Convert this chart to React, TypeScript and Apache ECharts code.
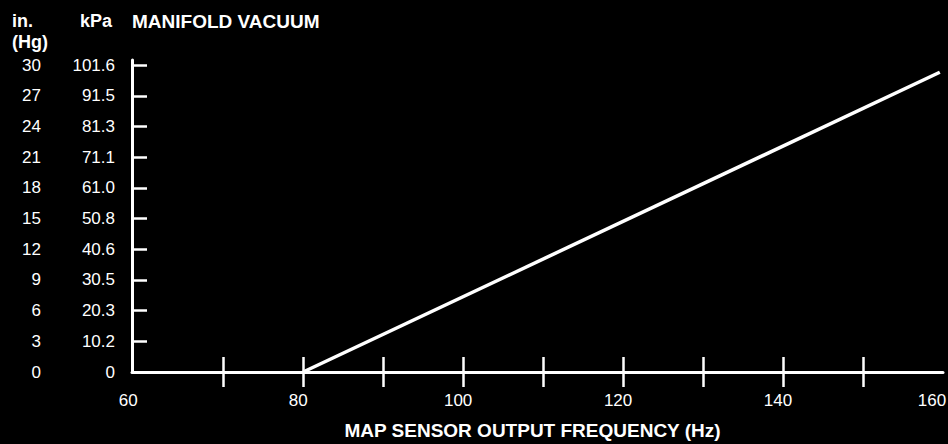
import React, { useEffect, useRef } from "react";
import * as echarts from "echarts";

// ---- data ----
const hgTicks = [0, 3, 6, 9, 12, 15, 18, 21, 24, 27, 30];
const kpaLabels = ["0", "10.2", "20.3", "30.5", "40.6", "50.8", "61.0", "71.1", "81.3", "91.5", "101.6"];
const freqLabels = [60, 80, 100, 120, 140, 160];
const freqTicks = [70, 80, 90, 100, 110, 120, 130, 140, 150];
const lineFreq = [80, 159.6];
const lineVacuumHg = [0, 29.3];

const FONT = "'Liberation Sans', Arial, Helvetica, sans-serif";

export default function App() {
  const ref = useRef<HTMLDivElement>(null);
  useEffect(() => {
    if (!ref.current) return;
    const chart = echarts.init(ref.current, null, { renderer: "svg" });
    const white = "#ffffff";
    const xCommon = {
      type: "value",
      min: 58.6,
      max: 160,
      position: "bottom",
      splitLine: { show: false },
    };
    chart.setOption({
      animation: false,
      backgroundColor: "#000000",
      textStyle: { fontFamily: FONT, color: white },
      grid: {
        left: 132,
        top: 60,
        width: 811,
        height: 312,
        containLabel: false,
        outerBoundsMode: "none",
      },
      graphic: [
        { type: "text", left: 12, top: 12, style: { text: "in.", fill: white, font: `bold 18px ${FONT}` } },
        { type: "text", left: 12, top: 33, style: { text: "(Hg)", fill: white, font: `bold 18px ${FONT}` } },
        { type: "text", left: 80, top: 12, style: { text: "kPa", fill: white, font: `bold 18px ${FONT}` } },
        { type: "text", left: 132, top: 12, style: { text: "MANIFOLD VACUUM", fill: white, font: `bold 19px ${FONT}` } },
      ],
      xAxis: [
        {
          ...xCommon,
          axisLine: { show: true, lineStyle: { color: white, width: 3 } },
          axisTick: {
            show: true,
            inside: true,
            length: 15,
            customValues: freqTicks,
            lineStyle: { color: white, width: 2.5 },
          },
          axisLabel: {
            show: true,
            customValues: freqLabels,
            margin: 20,
            color: white,
            fontSize: 17,
            fontFamily: FONT,
            formatter: (v: number) =>
              v === freqLabels[0]
                ? `{m|${v}}`
                : v === freqLabels[freqLabels.length - 1]
                ? `{e|${v}}`
                : `{n|${v}}`,
            rich: {
              n: { color: white, fontSize: 17, fontFamily: FONT, padding: [0, 10, 0, 0] },
              m: { color: white, fontSize: 17, fontFamily: FONT, padding: [0, 30, 0, 0] },
              e: { color: white, fontSize: 17, fontFamily: FONT, padding: [0, 22, 0, 0] },
            },
          },
          name: "MAP SENSOR OUTPUT FREQUENCY (Hz)",
          nameLocation: "middle",
          nameGap: 49,
          nameTextStyle: { color: white, fontSize: 19, fontWeight: "bold", fontFamily: FONT, padding: [0, 10, 0, 0] },
        },
        {
          ...xCommon,
          offset: 0,
          axisLine: { show: false },
          axisTick: {
            show: true,
            inside: false,
            length: 15,
            customValues: freqTicks,
            lineStyle: { color: white, width: 2.5 },
          },
          axisLabel: { show: false },
        },
      ],
      yAxis: [
        {
          type: "value",
          min: 0,
          max: 30.5,
          position: "left",
          splitLine: { show: false },
          axisLine: { show: true, lineStyle: { color: white, width: 3 } },
          axisTick: {
            show: true,
            inside: true,
            length: 15,
            customValues: hgTicks.slice(1),
            lineStyle: { color: white, width: 2.5 },
          },
          axisLabel: {
            show: true,
            customValues: hgTicks,
            margin: 17,
            color: white,
            fontSize: 17,
            fontFamily: FONT,
            padding: [0, 0, 10, 0],
            formatter: (v: number) => {
              const i = hgTicks.indexOf(Math.round(v));
              return i >= 0 ? kpaLabels[i] : "";
            },
          },
        },
        {
          type: "value",
          min: 0,
          max: 30.5,
          position: "left",
          offset: 0,
          splitLine: { show: false },
          axisLine: { show: false },
          axisTick: { show: false },
          axisLabel: {
            show: true,
            customValues: hgTicks,
            margin: 91,
            color: white,
            fontSize: 17,
            fontFamily: FONT,
            padding: [0, 0, 10, 0],
            formatter: (v: number) => String(v),
          },
        },
      ],
      series: [
        {
          type: "line",
          xAxisIndex: 0,
          yAxisIndex: 0,
          data: lineFreq.map((f, i) => [f, lineVacuumHg[i]]),
          showSymbol: false,
          symbol: "none",
          clip: false,
          lineStyle: { color: white, width: 3.5 },
        },
      ],
    });
    return () => chart.dispose();
  }, []);
  return (
    <div
      ref={ref}
      style={{ position: "fixed", left: 0, top: 0, width: 948, height: 444, background: "#000" }}
    />
  );
}
